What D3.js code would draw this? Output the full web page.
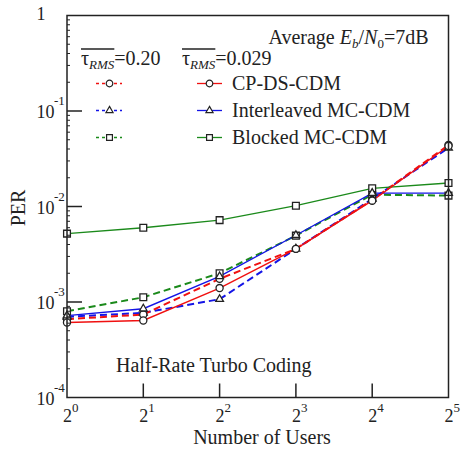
<!DOCTYPE html>
<html>
<head>
<meta charset="utf-8">
<script src="https://cdn.jsdelivr.net/npm/d3@7"></script>
<style>
  html, body { margin: 0; padding: 0; background: #fff; }
  svg { display: block; font-family: "Liberation Serif", "DejaVu Serif", serif; }
</style>
</head>
<body>
<svg id="chart" width="466" height="451"></svg>
<script>
// number of users on the x axis
const users = [1, 2, 4, 8, 16, 32];
const xExponents = [0, 1, 2, 3, 4, 5];
const yExponents = [0, -1, -2, -3, -4];

// PER values, tau_RMS = 0.20 (dashed) and 0.029 (solid)
const cpdsDashed = [6.6e-4, 7.4e-4, 1.75e-3, 3.6e-3, 1.17e-2, 4.4e-2];
const interDashed = [7.0e-4, 7.7e-4, 1.07e-3, 3.6e-3, 1.2e-2, 4.1e-2];
const blockDashed = [8.0e-4, 1.12e-3, 2.0e-3, 4.95e-3, 1.33e-2, 1.3e-2];
const cpdsSolid = [6.1e-4, 6.4e-4, 1.4e-3, 3.6e-3, 1.15e-2, 4.3e-2];
const interSolid = [7.2e-4, 8.5e-4, 1.85e-3, 5.0e-3, 1.38e-2, 1.38e-2];
const blockSolid = [5.2e-3, 6.0e-3, 7.2e-3, 1.02e-2, 1.55e-2, 1.76e-2];

const legendNames = ["CP-DS-CDM", "Interleaved MC-CDM", "Blocked MC-CDM"];

const red = "#f01010";
const blue = "#1414e6";
const green = "#1b8a1b";
const ink = "#222";

const series = [
  { values: blockDashed, color: green, dashed: true, sym: d3.symbolSquare },
  { values: interDashed, color: blue, dashed: true, sym: d3.symbolTriangle },
  { values: cpdsDashed, color: red, dashed: true, sym: d3.symbolCircle },
  { values: blockSolid, color: green, dashed: false, sym: d3.symbolSquare },
  { values: interSolid, color: blue, dashed: false, sym: d3.symbolTriangle },
  { values: cpdsSolid, color: red, dashed: false, sym: d3.symbolCircle },
];

const svg = d3.select("#chart");
const plotL = 67, plotT = 15.5, plotR = 448.5, plotB = 397.5;

const x = d3.scaleLog().base(2).domain([1, 32]).range([plotL, plotR]);
const y = d3.scaleLog().domain([1e-4, 1]).range([plotB, plotT]);

function symbolPath(sym) {
  const size = sym === d3.symbolSquare ? 46 : sym === d3.symbolCircle ? 40 : 26;
  return d3.symbol().type(sym).size(size)();
}

// data lines
const line = d3.line().x((d, i) => x(users[i])).y((d) => y(d));
const plot = svg.append("g");
series.forEach((s) => {
  plot.append("path")
    .attr("d", line(s.values))
    .attr("fill", "none")
    .attr("stroke", s.color)
    .attr("stroke-width", s.dashed ? 2 : 1.4)
    .attr("stroke-dasharray", s.dashed ? "7,4" : null);
});
series.forEach((s) => {
  plot.selectAll(null)
    .data(s.values)
    .enter()
    .append("path")
    .attr("d", symbolPath(s.sym))
    .attr("transform", (d, i) => `translate(${x(users[i])},${y(d)})`)
    .attr("fill", "#fff")
    .attr("stroke", ink)
    .attr("stroke-width", 1.3);
});

// frame
svg.append("rect")
  .attr("x", plotL).attr("y", plotT)
  .attr("width", plotR - plotL).attr("height", plotB - plotT)
  .attr("fill", "none").attr("stroke", ink).attr("stroke-width", 1.5);

// y ticks (major inward, minor small)
const yMinor = [];
for (let e = -4; e < 0; e++) for (let m = 2; m <= 9; m++) yMinor.push(m * Math.pow(10, e));
svg.append("g").selectAll("line").data(yMinor).enter().append("line")
  .attr("x1", plotL).attr("x2", plotL + 3)
  .attr("y1", (d) => y(d)).attr("y2", (d) => y(d))
  .attr("stroke", ink).attr("stroke-width", 1);
svg.append("g").selectAll("line").data(yExponents.slice(1, 4)).enter().append("line")
  .attr("x1", plotL).attr("x2", plotL + 15)
  .attr("y1", (d) => y(Math.pow(10, d))).attr("y2", (d) => y(Math.pow(10, d)))
  .attr("stroke", ink).attr("stroke-width", 1.5);
svg.append("g").selectAll("line").data(xExponents.slice(1, 5)).enter().append("line")
  .attr("x1", (d) => x(Math.pow(2, d))).attr("x2", (d) => x(Math.pow(2, d)))
  .attr("y1", plotB).attr("y2", plotB - 14)
  .attr("stroke", ink).attr("stroke-width", 1.5);

// y tick labels
yExponents.forEach((e) => {
  const ty = y(Math.pow(10, e));
  if (e === 0) {
    svg.append("text").attr("x", 41).attr("y", ty + 4).attr("text-anchor", "middle")
      .attr("font-size", 18).attr("fill", ink).text("1");
    return;
  }
  const t = svg.append("text").attr("x", 36.5).attr("y", ty + 7)
    .attr("font-size", 18).attr("fill", ink);
  t.append("tspan").text("10");
  t.append("tspan").attr("font-size", 13).attr("dy", -13).attr("dx", -0.5).text(`-${-e}`);
});

// x tick labels
xExponents.forEach((e) => {
  const tx = x(Math.pow(2, e));
  const t = svg.append("text").attr("x", tx - 4).attr("y", 421.5)
    .attr("font-size", 18).attr("fill", ink);
  t.append("tspan").text("2");
  t.append("tspan").attr("font-size", 13).attr("dy", -9.5).text(e);
});

// axis titles
svg.append("text").attr("x", 262).attr("y", 443.5).attr("text-anchor", "middle")
  .attr("font-size", 20).attr("fill", ink).text("Number of Users");
svg.append("text").attr("transform", "translate(25,208) rotate(-90)")
  .attr("text-anchor", "middle").attr("font-size", 20).attr("fill", ink).text("PER");

svg.append("text").attr("x", 116).attr("y", 371.5)
  .attr("font-size", 20).attr("fill", ink).text("Half-Rate Turbo Coding");

// Average Eb/N0 label
const eb = svg.append("text").attr("x", 428.5).attr("y", 44).attr("text-anchor", "end")
  .attr("font-size", 20).attr("fill", ink);
eb.append("tspan").text("Average ");
eb.append("tspan").attr("font-style", "italic").text("E");
eb.append("tspan").attr("font-style", "italic").attr("font-size", 13).attr("dy", 4).text("b");
eb.append("tspan").attr("dy", -4).text("/");
eb.append("tspan").attr("font-style", "italic").text("N");
eb.append("tspan").attr("font-size", 13).attr("dy", 4).text("0");
eb.append("tspan").attr("dy", -4).text("=7dB");

// tau_RMS headers with overline
function tauHeader(x0, value) {
  const t = svg.append("text").attr("x", x0).attr("y", 65).attr("font-size", 20).attr("fill", ink);
  t.append("tspan").text("τ");
  t.append("tspan").attr("font-style", "italic").attr("font-size", 13).attr("dy", 4).text("RMS");
  const w = t.node().getComputedTextLength();
  svg.append("line").attr("x1", x0).attr("x2", x0 + w).attr("y1", 49).attr("y2", 49)
    .attr("stroke", ink).attr("stroke-width", 1.3);
  t.append("tspan").attr("dy", -4).text(value);
}
tauHeader(81, "=0.20");
tauHeader(182, "=0.029");

// legend rows
const legendColors = [red, blue, green];
const legendSyms = [d3.symbolCircle, d3.symbolTriangle, d3.symbolSquare];
const rowY = [83.5, 110.5, 137.5];
legendNames.forEach((name, i) => {
  const ly = rowY[i];
  svg.append("line").attr("x1", 96).attr("x2", 122).attr("y1", ly).attr("y2", ly)
    .attr("stroke", legendColors[i]).attr("stroke-width", 1.3).attr("stroke-dasharray", "3,3");
  svg.append("line").attr("x1", 197).attr("x2", 222).attr("y1", ly).attr("y2", ly)
    .attr("stroke", legendColors[i]).attr("stroke-width", 1.3);
  [109.5, 209.5].forEach((mx) => {
    svg.append("path").attr("d", d3.symbol().type(legendSyms[i])
      .size(legendSyms[i] === d3.symbolTriangle ? 22 : 34)())
      .attr("transform", `translate(${mx},${ly})`)
      .attr("fill", "#fff").attr("stroke", ink).attr("stroke-width", 1.2);
  });
  svg.append("text").attr("x", 232).attr("y", ly + 6.5)
    .attr("font-size", 20).attr("fill", ink).text(name);
});
</script>
</body>
</html>
